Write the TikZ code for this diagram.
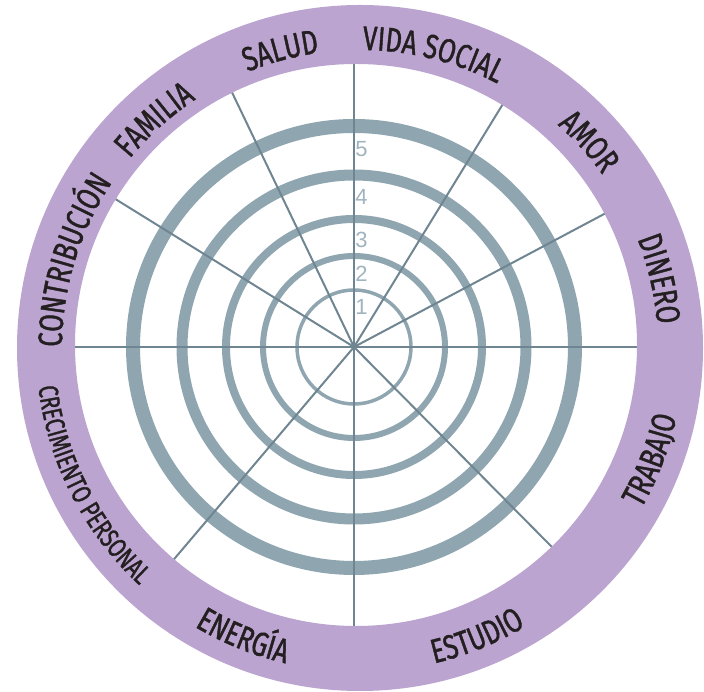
\documentclass[tikz,border=0pt]{standalone}
\usepackage{fontspec}
\usetikzlibrary{calc, decorations.text}
\newfontfamily\LabelFont[FakeStretch=0.75, FakeBold=1.2]{Fira Sans}
\newfontfamily\NumberFont{Liberation Sans}
\definecolor{RingGrey}{HTML}{8FA5B0}
\definecolor{SpokeGrey}{HTML}{6F8591}
\definecolor{NumberGrey}{HTML}{A0B4BF}
\definecolor{BandPurple}{HTML}{BBA4D0}
\definecolor{LabelInk}{HTML}{231F20}
\newcommand{\InnerRadius}{281}
\newcommand{\OuterRadius}{343}
\newcommand{\TopBase}{298}
\newcommand{\BottomBase}{324}
\newcommand{\BigLabel}{\color{LabelInk}\LabelFont\fontsize{34}{34}\selectfont}
\newcommand{\SmallLabel}{\color{LabelInk}\LabelFont\fontsize{27.5}{27.5}\selectfont}
\tikzset{RingLine/.style={
    draw=RingGrey
    }
}
\tikzset{SpokeLine/.style={
    draw=SpokeGrey,
    line width=2pt
    }
}
\tikzset{Band/.style={
    fill=BandPurple,
    even odd rule
    }
}
\tikzset{NumberLabel/.style={
    text=NumberGrey,
    font=\NumberFont\fontsize{22}{22}\selectfont,
    inner sep=0pt
    }
}
% label read clockwise, letters standing outwards
\newcommand{\TopLabel}[3]{%
  \path[decorate, decoration={text along path, text align=center, text={|#3|#2}}]
    ($(B)+(#1+50:\TopBase)$) arc[start angle=#1+50, end angle=#1-50, radius=\TopBase];
}
% label read anticlockwise, letters standing inwards
\newcommand{\BottomLabel}[3]{%
  \path[decorate, decoration={text along path, text align=center, text={|#3|#2}}]
    ($(B)+(#1-50:\BottomBase)$) arc[start angle=#1-50, end angle=#1+50, radius=\BottomBase];
}

\begin{document}
\begin{tikzpicture}[x=1pt, y=1pt]
    \useasboundingbox (0,0) rectangle (704,692);

    \coordinate (O) at (354,345);
    \coordinate (B) at (360,344);
    \coordinate (W) at (356,347);

    % rings 1 to 5
    \foreach \r/\w in {57/3.5, 91/6, 128/8, 172/11, 221/14}
        \draw[RingLine, line width=\w pt] (O) circle[radius=\r];

    % one spoke between each two areas
    \foreach \a in {0, 28, 58.5, 90, 115.6, 148.2, 180, 229.7, 270, 314.7}
        \draw[SpokeLine] (O) -- ++(\a:290);

    \fill[Band] (B) circle[radius=\OuterRadius] (W) circle[radius=\InnerRadius];

    \node (n5)[NumberLabel] at (361.5,542.5) {5};
    \node (n4)[NumberLabel] at (361.5,495.5) {4};
    \node (n3)[NumberLabel] at (361.5,452) {3};
    \node (n2)[NumberLabel] at (361.5,418.5) {2};
    \node (n1)[NumberLabel] at (361.5,385.5) {1};

    \TopLabel{105}{SALUD}{\BigLabel}
    \TopLabel{76}{VIDA SOCIAL}{\BigLabel}
    \TopLabel{42}{AMOR}{\BigLabel}
    \TopLabel{13}{DINERO}{\BigLabel}
    \TopLabel{132}{FAMILIA}{\BigLabel}
    \TopLabel{163}{CONTRIBUCIÓN}{\BigLabel}
    \BottomLabel{-21}{TRABAJO}{\BigLabel}
    \BottomLabel{-68}{ESTUDIO}{\BigLabel}
    \BottomLabel{248}{ENERGÍA}{\BigLabel}
    \BottomLabel{207}{CRECIMIENTO PERSONAL}{\SmallLabel}

\end{tikzpicture}
\end{document}
